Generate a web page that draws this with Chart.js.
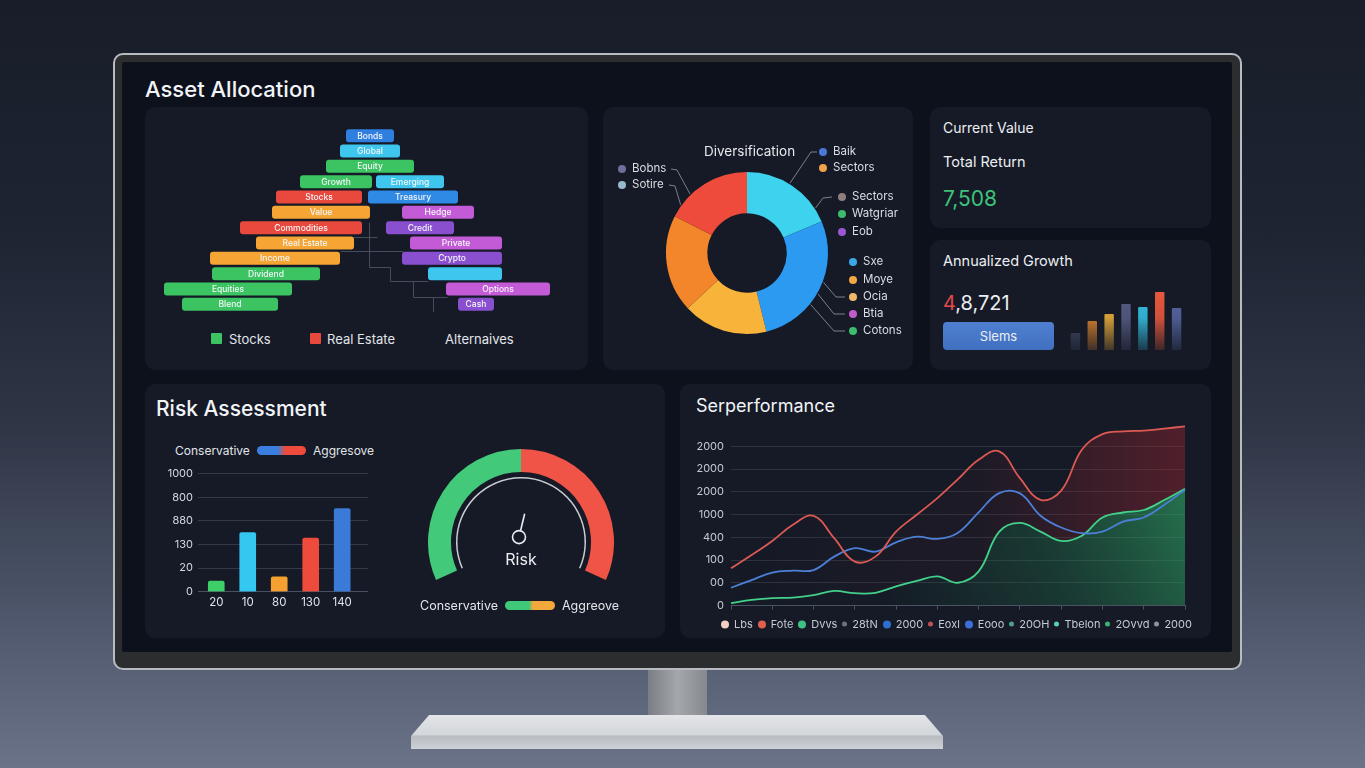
<!DOCTYPE html>
<html>
<head>
<meta charset="utf-8">
<title>Portfolio dashboard</title>
<script src="https://cdn.jsdelivr.net/npm/chart.js@4.4.1/dist/chart.umd.min.js"></script>
<style>
  html, body { margin: 0; padding: 0; }
  body {
    width: 1365px; height: 768px; overflow: hidden; position: relative;
    font-family: Inter, "Noto Sans", Roboto, sans-serif;
    background: linear-gradient(180deg, #181d29 0%, #1e2432 30%, #2e3545 55%, #4d566a 80%, #6a7387 100%);
  }
  .abs { position: absolute; }
  .t { position: absolute; transform: translateY(-50%); line-height: 1; white-space: nowrap; color: #eceef2; }
  canvas { position: absolute; }
  #frame { left: 113px; top: 53px; width: 1125px; height: 613px; border: 2px solid #b8bcc2; border-radius: 10px; background: #2c2d2f; }
  #screen { left: 122px; top: 62px; width: 1110px; height: 590px; background: #0c111c; border-radius: 2px; }
  #neck { left: 648px; top: 670px; width: 59px; height: 48px; background: linear-gradient(90deg, #7a7d83, #a4a7ac 50%, #85888d); }
  #base { left: 411px; top: 715px; width: 532px; height: 34px; background: linear-gradient(180deg, #e3e5e8 0%, #d3d6da 58%, #b9bcc1 62%, #cdd0d4 100%); clip-path: polygon(3.4% 0, 96.6% 0, 100% 62%, 100% 100%, 0 100%, 0 62%); }
  .card { position: absolute; background: #151a26; border-radius: 10px; }
  .dot { position: absolute; width: 8px; height: 8px; border-radius: 50%; transform: translate(-50%, -50%); }
  .sq { position: absolute; width: 11px; height: 11px; border-radius: 1px; }
  .pill { position: absolute; height: 9px; border-radius: 5px; }
  .lab { font-size: 11.5px; color: #d9dde4; }
  #perfLegend { display: flex; justify-content: space-between; align-items: center; font-size: 11px; color: #c5cad2; }
  #perfLegend span.i { display: flex; align-items: center; }
  #perfLegend span.d { display: inline-block; border-radius: 50%; margin-right: 5px; }
</style>
</head>
<body>
<div class="abs" id="frame"></div>
<div class="abs" id="screen"></div>
<div class="abs" id="neck"></div>
<div class="abs" id="base"></div>

<!-- cards -->
<div class="card" style="left:145px;top:107px;width:443px;height:263px;"></div>
<div class="card" style="left:603px;top:107px;width:310px;height:263px;"></div>
<div class="card" style="left:930px;top:107px;width:281px;height:121px;"></div>
<div class="card" style="left:930px;top:240px;width:281px;height:130px;"></div>
<div class="card" style="left:145px;top:384px;width:520px;height:254px;"></div>
<div class="card" style="left:680px;top:384px;width:531px;height:254px;"></div>

<!-- asset allocation -->
<div class="t" style="left:145px;top:89px;font-size:22px;font-weight:500;color:#f2f4f7;">Asset Allocation</div>
<canvas id="pyramidChart" width="430" height="184" style="left:150px;top:128px;"></canvas>
<div class="sq" style="left:211px;top:333px;background:#3cc463;"></div>
<div class="t" style="left:229px;top:339px;font-size:13px;color:#e2e5ea;">Stocks</div>
<div class="sq" style="left:310px;top:333px;background:#e9483d;"></div>
<div class="t" style="left:327px;top:339px;font-size:13px;color:#e2e5ea;">Real Estate</div>
<div class="t" style="left:445px;top:339px;font-size:13px;color:#e2e5ea;">Alternaives</div>

<!-- diversification -->
<canvas id="donutChart" width="310" height="263" style="left:603px;top:107px;"></canvas>
<div class="t" style="left:704px;top:152px;font-size:13.5px;color:#e6e9ee;">Diversification</div>
<div class="dot" style="left:622px;top:169px;background:#6e6f9c;"></div><div class="t lab" style="left:632px;top:169px;">Bobns</div>
<div class="dot" style="left:622px;top:185px;background:#9ab8cc;"></div><div class="t lab" style="left:632px;top:185px;">Sotire</div>
<div class="dot" style="left:823px;top:152px;background:#4a78d8;"></div><div class="t lab" style="left:833px;top:152px;">Baik</div>
<div class="dot" style="left:823px;top:168px;background:#f0a24a;"></div><div class="t lab" style="left:833px;top:168px;">Sectors</div>
<div class="dot" style="left:842px;top:197px;background:#8d7f80;"></div><div class="t lab" style="left:852px;top:197px;">Sectors</div>
<div class="dot" style="left:842px;top:214px;background:#3dbb6e;"></div><div class="t lab" style="left:852px;top:214px;">Watgriar</div>
<div class="dot" style="left:842px;top:232px;background:#9a58d0;"></div><div class="t lab" style="left:852px;top:232px;">Eob</div>
<div class="dot" style="left:853px;top:262px;background:#3aa8e8;"></div><div class="t lab" style="left:863px;top:262px;">Sxe</div>
<div class="dot" style="left:853px;top:280px;background:#f0a845;"></div><div class="t lab" style="left:863px;top:280px;">Moye</div>
<div class="dot" style="left:853px;top:297px;background:#f2b869;"></div><div class="t lab" style="left:863px;top:297px;">Ocia</div>
<div class="dot" style="left:853px;top:314px;background:#c25cc8;"></div><div class="t lab" style="left:863px;top:314px;">Btia</div>
<div class="dot" style="left:853px;top:331px;background:#3dbb6e;"></div><div class="t lab" style="left:863px;top:331px;">Cotons</div>

<!-- value cards -->
<div class="t" style="left:943px;top:128px;font-size:14px;">Current Value</div>
<div class="t" style="left:943px;top:162px;font-size:14.5px;">Total Return</div>
<div class="t" style="left:943px;top:198px;font-size:21px;color:#3ec27a;">7,508</div>
<div class="t" style="left:943px;top:261px;font-size:14.5px;">Annualized Growth</div>
<div class="t" style="left:943px;top:303px;font-size:20px;"><span style="color:#e5484d;">4</span>,8,721</div>
<div class="abs" style="left:943px;top:322px;width:111px;height:28px;border-radius:4px;background:linear-gradient(180deg,#4f7fd0,#4170c0);"></div>
<div class="t" style="left:943px;top:336px;width:111px;text-align:center;font-size:13px;">Slems</div>
<canvas id="growthChart" width="118" height="65" style="left:1067px;top:285px;"></canvas>

<!-- risk assessment -->
<div class="t" style="left:156px;top:408px;font-size:21px;font-weight:500;color:#f2f4f7;">Risk Assessment</div>
<div class="t" style="left:175px;top:451px;font-size:12px;color:#e2e5ea;">Conservative</div>
<div class="pill" style="left:257px;top:446px;width:49px;background:linear-gradient(90deg,#3a7fe0 0%,#3a7fe0 42%,#ef4b3c 58%,#ef4b3c 100%);"></div>
<div class="t" style="left:313px;top:451px;font-size:12px;color:#e2e5ea;">Aggresove</div>
<canvas id="riskChart" width="212" height="160" style="left:160px;top:462px;"></canvas>

<canvas id="gaugeChart" width="186" height="131" style="left:428px;top:449px;"></canvas>
<div class="t" style="left:491px;top:559px;width:60px;text-align:center;font-size:16px;">Risk</div>
<div class="t" style="left:420px;top:606px;font-size:12.5px;color:#e2e5ea;">Conservative</div>
<div class="pill" style="left:505px;top:601px;width:50px;background:linear-gradient(90deg,#3ec878 0%,#3ec878 48%,#f2a83a 56%,#f2a83a 100%);"></div>
<div class="t" style="left:562px;top:606px;font-size:12.5px;color:#e2e5ea;">Aggreove</div>

<!-- performance -->
<div class="t" style="left:696px;top:406px;font-size:18px;color:#f2f4f7;">Serperformance</div>
<canvas id="perfChart" width="500" height="210" style="left:690px;top:410px;"></canvas>
<div class="t" id="perfLegend" style="left:721px;top:624px;width:471px;"></div>

<script>
  // ---------- data ----------
  const pyramidTiers = ['Tier 1', 'Tier 2', 'Tier 3', 'Tier 4', 'Tier 5', 'Tier 6', 'Tier 7', 'Tier 8', 'Tier 9', 'Tier 10', 'Tier 11', 'Tier 12'];
  const pyramidLeft = [[-12, 12], [-15, 15], [-22, 22], [-35, 1], [-47, -4], [-49, 0], [-65, -4], [-57, -8], [-80, -15], [-79, -25], [-103, -39], [-94, -46]];
  const pyramidRight = [null, null, null, [3, 37], [-1, 44], [16, 52], [8, 42], [20, 66], [16, 66], [29, 66], [38, 90], [44, 62]];
  const pyramidLeftText = ['Bonds', 'Global', 'Equity', 'Growth', 'Stocks', 'Value', 'Commodities', 'Real Estate', 'Income', 'Dividend', 'Equities', 'Blend'];
  const pyramidRightText = ['', '', '', 'Emerging', 'Treasury', 'Hedge', 'Credit', 'Private', 'Crypto', '', 'Options', 'Cash'];
  const pyramidLeftColors = ['#2f7fe0', '#3ec6ee', '#3cc463', '#3cc463', '#e9483d', '#f5a534', '#e9483d', '#f5a534', '#f5a534', '#3cc463', '#3cc463', '#3cc463'];
  const pyramidRightColors = ['#3ec6ee', '#3ec6ee', '#3ec6ee', '#3ec6ee', '#2f8ae6', '#c45bd6', '#8a4fcf', '#c45bd6', '#8a4fcf', '#3ec6ee', '#c45bd6', '#8a4fcf'];
  // thin connector steps between the two sides: [x1, row1, x2, row2]
  const pyramidLinks = [[-0.5, 5.6, -0.5, 8.55], [-8.5, 6.6, 3.5, 6.6], [-15, 7.55, 16.5, 7.55], [-0.5, 8.55, 10, 8.55],
    [10, 8.55, 10, 9.5], [10, 9.5, 29, 9.5], [21.5, 9.5, 21.5, 10.5], [21.5, 10.5, 38.5, 10.5],
    [31.5, 10.5, 31.5, 11.5], [31.5, 11.5, 43.5, 11.5], [39.5, 11.5, 39.5, 12.45]];

  const sectorNames = ['Technology', 'Healthcare', 'Consumer', 'Energy', 'Financials'];
  const sectorShares = [18.6, 27.5, 16.9, 19.4, 17.5];
  const sectorColors = ['#3dd2ee', '#2b9af0', '#f7b33a', '#f3852b', '#ef4b3c'];

  const growthYears = ['2018', '2019', '2020', '2021', '2022', '2023', '2024'];
  const growthValues = [17, 29, 36, 46, 43, 58, 42];
  const growthColors = ['#4b5373', '#e5892f', '#f0b13a', '#585d86', '#36c3e6', '#ee5a3e', '#5667a4'];

  const riskCats = ['20', '10', '80', '130', '140'];
  const riskValues = [0.45, 2.5, 0.63, 2.27, 3.52];
  const riskTicks = ['0', '20', '130', '880', '800', '1000'];
  const riskColors = ['#3ecf6a', '#34c8f0', '#f5a030', '#ef4b3c', '#3a7ad8'];

  const gaugeZones = [50, 50];
  const riskLevel = 0.56;

  const perfPeriods = ['Q1 19', 'Q2 19', 'Q3 19', 'Q4 19', 'Q1 20', 'Q2 20', 'Q3 20', 'Q4 20', 'Q1 21', 'Q2 21', 'Q3 21', 'Q4 21',
    'Q1 22', 'Q2 22', 'Q3 22', 'Q4 22', 'Q1 23', 'Q2 23', 'Q3 23', 'Q4 23', 'Q1 24', 'Q2 24', 'Q3 24'];
  const perfRed = [1.64, 2.22, 2.84, 3.55, 3.94, 2.96, 1.93, 2.15, 3.25, 3.99, 4.72, 5.56, 6.41, 6.78, 5.6, 4.65, 5.05, 6.85, 7.54, 7.66, 7.69, 7.78, 7.88];
  const perfBlue = [0.78, 1.12, 1.45, 1.53, 1.56, 2.15, 2.52, 2.37, 2.78, 3.03, 2.93, 3.2, 4.1, 4.94, 4.93, 3.95, 3.43, 3.18, 3.25, 3.69, 3.87, 4.43, 5.09];
  const perfGreen = [0.1, 0.25, 0.32, 0.35, 0.46, 0.64, 0.54, 0.56, 0.84, 1.08, 1.28, 1.0, 1.5, 3.25, 3.63, 3.25, 2.84, 3.07, 3.87, 4.09, 4.2, 4.64, 5.13];
  const perfTicks = ['0', '00', '100', '400', '1000', '2000', '2000', '2000'];
  const perfLegendNames = ['Lbs', 'Fote', 'Dvvs', '28tN', '2000', 'Eoxl', 'Eooo', '20OH', 'Tbelon', '2Ovvd', '2000'];
  const perfLegendColors = ['#f3cfc6', '#e0604f', '#3fc084', '#6b7280', '#2d6fd0', '#c0505a', '#3a70d8', '#4aa090', '#5ad0b0', '#3fb070', '#8a90a0'];
  const perfLegendBig = [true, true, true, false, true, false, true, false, false, false, false];

  // ---------- defaults ----------
  Chart.defaults.font.family = 'Inter, "Noto Sans", sans-serif';
  Chart.defaults.animation = false;
  Chart.defaults.responsive = false;
  Chart.defaults.plugins.legend.display = false;
  Chart.defaults.plugins.tooltip.enabled = false;
  Chart.defaults.color = '#c8ccd4';

  // ---------- asset allocation pyramid ----------
  const pyramidPlugin = {
    id: 'pyramidExtras',
    beforeDatasetsDraw(chart) {
      const {ctx, scales: {x, y}} = chart;
      ctx.save();
      ctx.strokeStyle = '#454c5b';
      ctx.lineWidth = 1;
      pyramidLinks.forEach(([x1, r1, x2, r2]) => {
        ctx.beginPath();
        ctx.moveTo(Math.round(x.getPixelForValue(x1)) + 0.5, Math.round(y.getPixelForValue(r1)) + 0.5);
        ctx.lineTo(Math.round(x.getPixelForValue(x2)) + 0.5, Math.round(y.getPixelForValue(r2)) + 0.5);
        ctx.stroke();
      });
      ctx.restore();
    },
    afterDatasetsDraw(chart) {
      const ctx = chart.ctx;
      ctx.save();
      ctx.font = '500 8.5px Inter, sans-serif';
      ctx.fillStyle = '#f4f6f8';
      ctx.textAlign = 'center';
      ctx.textBaseline = 'middle';
      [pyramidLeftText, pyramidRightText].forEach((texts, di) => {
        chart.getDatasetMeta(di).data.forEach((bar, i) => {
          if (!texts[i] || isNaN(bar.x) || isNaN(bar.base)) return;
          ctx.fillText(texts[i], (bar.x + bar.base) / 2, bar.y + 0.5);
        });
      });
      ctx.restore();
    }
  };

  new Chart(document.getElementById('pyramidChart'), {
    type: 'bar',
    data: {
      labels: pyramidTiers,
      datasets: [
        {label: 'Core', data: pyramidLeft, backgroundColor: pyramidLeftColors, grouped: false, borderRadius: 3, borderSkipped: false, barPercentage: 0.85, categoryPercentage: 1},
        {label: 'Satellite', data: pyramidRight, backgroundColor: pyramidRightColors, grouped: false, borderRadius: 3, borderSkipped: false, barPercentage: 0.85, categoryPercentage: 1}
      ]
    },
    options: {
      indexAxis: 'y',
      layout: {padding: 0},
      scales: {
        x: {display: false, min: -110, max: 105},
        y: {display: false}
      }
    },
    plugins: [pyramidPlugin]
  });

  // ---------- diversification donut ----------
  // leader lines: angle on ring (deg from top), then elbow and end in page coords
  const donutLeaders = [
    {a: -44, pts: [[677, 170], [671, 169]]},
    {a: -54, pts: [[675, 186], [669, 185]]},
    {a: 31.6, pts: [[811, 152], [817, 152]]},
    {a: 56.7, pts: [[823, 198], [832, 197]]},
    {a: 111, pts: [[836, 297], [845, 297]]},
    {a: 120, pts: [[834, 314], [845, 314]]},
    {a: 129, pts: [[834, 331], [845, 331]]}
  ];
  const leaderPlugin = {
    id: 'leaders',
    afterDatasetsDraw(chart) {
      const arc = chart.getDatasetMeta(0).data[0];
      const ctx = chart.ctx;
      const ox = 603, oy = 107;
      ctx.save();
      ctx.strokeStyle = '#7a808c';
      ctx.lineWidth = 1;
      donutLeaders.forEach(l => {
        const r = arc.outerRadius + 1;
        const rad = l.a * Math.PI / 180;
        ctx.beginPath();
        ctx.moveTo(arc.x + Math.sin(rad) * r, arc.y - Math.cos(rad) * r);
        l.pts.forEach(p => ctx.lineTo(p[0] - ox, p[1] - oy));
        ctx.stroke();
      });
      ctx.restore();
    }
  };

  new Chart(document.getElementById('donutChart'), {
    type: 'doughnut',
    data: {
      labels: sectorNames,
      datasets: [{data: sectorShares, backgroundColor: sectorColors, borderWidth: 0}]
    },
    options: {
      cutout: '49%',
      layout: {padding: {left: 63, right: 85, top: 65, bottom: 36}}
    },
    plugins: [leaderPlugin]
  });

  // ---------- annualized growth mini bars ----------
  function fadeBar(ctx, color) {
    const area = ctx.chart.chartArea;
    if (!area) return color;
    const g = ctx.chart.ctx.createLinearGradient(0, area.top, 0, area.bottom);
    g.addColorStop(0, color);
    g.addColorStop(0.5, color + 'dd');
    g.addColorStop(1, color + '33');
    return g;
  }
  new Chart(document.getElementById('growthChart'), {
    type: 'bar',
    data: {
      labels: growthYears,
      datasets: [{
        data: growthValues,
        backgroundColor: ctx => fadeBar(ctx, growthColors[ctx.dataIndex]),
        borderRadius: 1, barPercentage: 0.56, categoryPercentage: 1
      }]
    },
    options: {
      layout: {padding: 0},
      scales: {x: {display: false}, y: {display: false, min: 0, max: 65}}
    }
  });

  // ---------- risk bars ----------
  new Chart(document.getElementById('riskChart'), {
    type: 'bar',
    data: {
      datasets: [{
        data: riskValues.map((v, i) => ({x: i, y: v})),
        backgroundColor: riskColors,
        barThickness: 16, borderRadius: 2, borderSkipped: 'bottom'
      }]
    },
    options: {
      layout: {padding: {top: 0, right: 4, bottom: 3.3, left: 0}},
      scales: {
        x: {
          type: 'linear', offset: false, min: -0.58, max: 4.82,
          grid: {display: false, drawTicks: false}, border: {display: false},
          afterBuildTicks: s => { s.ticks = riskCats.map((c, i) => ({value: i})); },
          ticks: {autoSkip: false, maxRotation: 0, color: '#dfe3ea', font: {size: 11.5}, padding: 4, callback: v => riskCats[v] ?? ''},
          afterFit: s => { s.height = 27; }
        },
        y: {
          min: 0, max: 5,
          ticks: {stepSize: 1, color: '#d4d8df', font: {size: 11}, padding: 5, callback: v => riskTicks[v] ?? ''},
          grid: {color: ctx => ctx.tick.value === 0 ? '#485062' : '#333947', drawTicks: false},
          border: {display: false},
          afterFit: s => { s.width = 38; }
        }
      }
    }
  });

  // ---------- risk gauge ----------
  const needlePlugin = {
    id: 'needle',
    afterDatasetsDraw(chart) {
      const arc = chart.getDatasetMeta(0).data[0];
      const cx = arc.x - 2, cy = arc.y - 5;
      const ang = (-114 + riskLevel * 228) * Math.PI / 180;
      const ctx = chart.ctx;
      ctx.save();
      ctx.strokeStyle = '#e9ecf1';
      ctx.lineWidth = 1.6;
      ctx.beginPath();
      ctx.arc(cx, cy, 6.5, 0, Math.PI * 2);
      ctx.stroke();
      ctx.beginPath();
      ctx.moveTo(cx + Math.sin(ang) * 7, cy - Math.cos(ang) * 7);
      ctx.lineTo(cx + Math.sin(ang) * 24, cy - Math.cos(ang) * 24);
      ctx.stroke();
      ctx.restore();
    }
  };
  new Chart(document.getElementById('gaugeChart'), {
    type: 'doughnut',
    data: {
      labels: ['Conservative', 'Aggressive'],
      datasets: [
        {data: gaugeZones, backgroundColor: ['#42c97a', '#ef5446'], borderWidth: 0, weight: 23},
        {data: [1], backgroundColor: ['rgba(0,0,0,0)'], borderWidth: 0, weight: 5},
        {data: [1], backgroundColor: ['#c9ccd2'], borderWidth: 0, weight: 1.5}
      ]
    },
    options: {
      rotation: -114,
      circumference: 228,
      cutout: '68.3%',
      layout: {padding: 0}
    },
    plugins: [needlePlugin]
  });

  // ---------- performance lines ----------
  function redFill(ctx) {
    const a = ctx.chart.chartArea;
    if (!a) return 'rgba(0,0,0,0)';
    const g = ctx.chart.ctx.createLinearGradient(a.left, 0, a.right, 0);
    g.addColorStop(0, 'rgba(170,40,50,0)');
    g.addColorStop(0.55, 'rgba(170,40,50,0.06)');
    g.addColorStop(1, 'rgba(170,40,50,0.4)');
    return g;
  }
  function greenFill(ctx) {
    const a = ctx.chart.chartArea;
    if (!a) return 'rgba(0,0,0,0)';
    const g = ctx.chart.ctx.createLinearGradient(a.right, a.top + 60, a.left + 180, a.bottom + 30);
    g.addColorStop(0, 'rgba(52,190,110,0.55)');
    g.addColorStop(0.5, 'rgba(40,150,90,0.25)');
    g.addColorStop(1, 'rgba(40,150,90,0.02)');
    return g;
  }
  new Chart(document.getElementById('perfChart'), {
    type: 'line',
    data: {
      labels: perfPeriods,
      datasets: [
        {label: 'Growth', data: perfRed, borderColor: '#dd5a54', borderWidth: 1.8, tension: 0.4, pointRadius: 0, fill: 2, backgroundColor: redFill},
        {label: 'Balanced', data: perfBlue, borderColor: '#4c7fd6', borderWidth: 1.8, tension: 0.4, pointRadius: 0, fill: false},
        {label: 'Income', data: perfGreen, borderColor: '#42d08a', borderWidth: 1.8, tension: 0.4, pointRadius: 0, fill: 'origin', backgroundColor: greenFill}
      ]
    },
    options: {
      layout: {padding: {top: 0, right: 5, bottom: 9.5, left: 0}},
      plugins: {filler: {drawTime: 'beforeDatasetsDraw'}},
      scales: {
        x: {
          grid: {display: true, drawOnChartArea: false, drawTicks: true, tickLength: 4, color: ctx => ctx.index % 2 === 0 ? '#4b5162' : 'rgba(0,0,0,0)'},
          border: {display: true, color: '#4b5162'},
          ticks: {display: false},
          afterFit: s => { s.height = 5; }
        },
        y: {
          min: 0, max: 8,
          ticks: {stepSize: 1, color: '#c4c9d2', font: {size: 11}, padding: 7, callback: v => perfTicks[v] ?? ''},
          grid: {color: ctx => (ctx.tick.value === 8 || ctx.tick.value === 0) ? 'rgba(0,0,0,0)' : 'rgba(255,255,255,0.1)', drawTicks: false},
          border: {display: false},
          afterFit: s => { s.width = 41; }
        }
      }
    }
  });

  // legend row under the performance chart
  const legendBox = document.getElementById('perfLegend');
  perfLegendNames.forEach((name, i) => {
    const item = document.createElement('span');
    item.className = 'i';
    const d = document.createElement('span');
    d.className = 'd';
    const size = perfLegendBig[i] ? 8 : 5;
    d.style.width = size + 'px';
    d.style.height = size + 'px';
    d.style.background = perfLegendColors[i];
    item.appendChild(d);
    item.appendChild(document.createTextNode(name));
    legendBox.appendChild(item);
  });
</script>
</body>
</html>
